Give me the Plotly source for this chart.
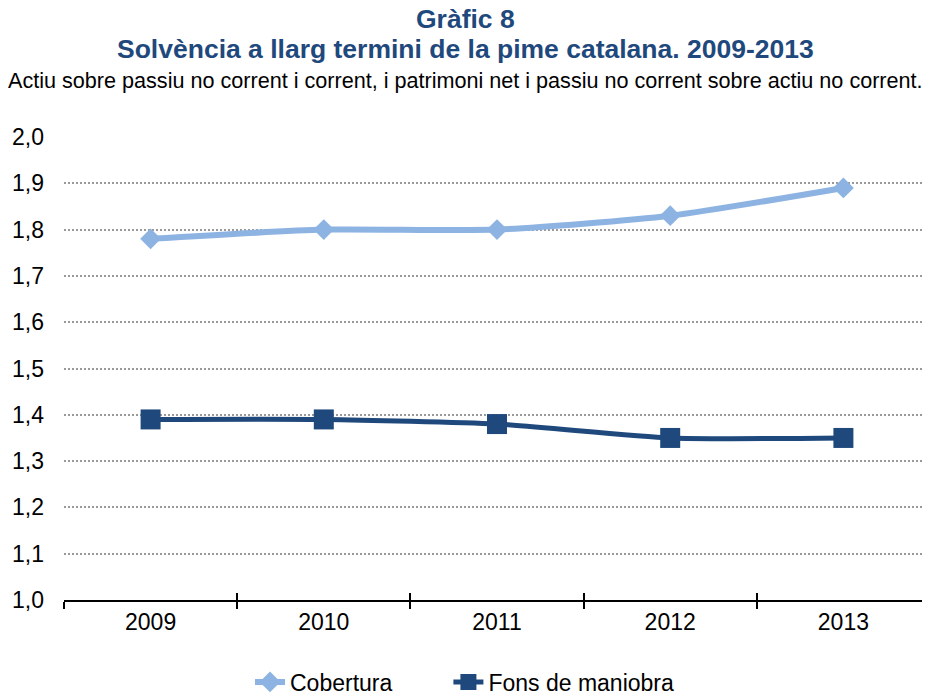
import plotly.graph_objects as go

years = ["2009", "2010", "2011", "2012", "2013"]
cobertura = [1.78, 1.80, 1.80, 1.83, 1.89]
fons_maniobra = [1.39, 1.39, 1.38, 1.35, 1.35]
y_ticks = [1.0, 1.1, 1.2, 1.3, 1.4, 1.5, 1.6, 1.7, 1.8, 1.9, 2.0]

# the page body has an 8px margin, so the figure is laid out 8px smaller
OFF = 8
W, H = 930 - OFF, 695 - OFF
L, R, T, B = 64 - OFF, 0, 137 - OFF, 95
plot_w = W - L - R
plot_h = H - T - B

fig = go.Figure()
fig.add_trace(go.Scatter(
    x=years, y=cobertura, name="Cobertura" + "\u00a0" * 8, mode="lines+markers",
    line=dict(color="#8DB3E2", width=6, shape="spline", smoothing=0.6),
    marker=dict(symbol="diamond", size=16, color="#8DB3E2"),
))
fig.add_trace(go.Scatter(
    x=years, y=fons_maniobra, name="Fons de maniobra", mode="lines+markers",
    line=dict(color="#1F497D", width=5, shape="spline", smoothing=0.6),
    marker=dict(symbol="square", size=20, color="#1F497D"),
))

# invisible helper so the second axis can draw the upward half of the ticks
fig.add_trace(go.Scatter(x=[-0.5, 4.5], y=[1.0, 1.0], xaxis="x2", mode="lines",
                         line=dict(width=0), showlegend=False, hoverinfo="skip"))

def ypx(p):
    # pixel row on the page -> paper coordinate
    return 1 + (T - (p - OFF)) / plot_h

def xpx(p):
    return (p - 64) / plot_w

cx = xpx(465)

fig.update_layout(
    width=W, height=H,
    font=dict(family="Liberation Sans, Arial, sans-serif", size=23, color="#000000"),
    separators=", ",
    paper_bgcolor="white", plot_bgcolor="white",
    margin=dict(l=L, r=R, t=T, b=B, autoexpand=False),
    showlegend=True,
    legend=dict(orientation="h", x=xpx(250), xanchor="left", y=ypx(682), yanchor="middle",
                font=dict(size=23), itemwidth=30, tracegroupgap=0),
    xaxis=dict(type="category", tickson="boundaries", ticks="outside", ticklen=7,
               tickcolor="#000000", tickwidth=1.5, showline=True, linecolor="#000000",
               linewidth=2, showgrid=False, zeroline=False, tickfont=dict(size=23),
               range=[-0.5, 4.5], automargin=False),
    xaxis2=dict(overlaying="x", range=[-0.5, 4.5], tickvals=[-0.5, 0.5, 1.5, 2.5, 3.5, 4.5],
                ticks="inside", ticklen=7, tickcolor="#000000", tickwidth=1.5,
                showticklabels=False, showgrid=False, zeroline=False, side="bottom",
                anchor="y", automargin=False),
    yaxis=dict(range=[1.0, 2.0], tickvals=y_ticks, tickformat=".1f",
               showgrid=True, gridcolor="#999999", griddash="2px,2px", gridwidth=1.5,
               zeroline=False, showline=False, ticks="", tickfont=dict(size=23),
               ticklabelstandoff=19, automargin=False),
    annotations=[
        dict(text="<b>Gràfic 8</b>", x=cx, y=ypx(19), xref="paper", yref="paper",
             yanchor="middle", showarrow=False, borderpad=0,
             font=dict(size=26.5, color="#1F497D")),
        dict(text="<b>Solvència a llarg termini de la pime catalana. 2009-2013</b>",
             x=cx, y=ypx(49), xref="paper", yref="paper", yanchor="middle",
             showarrow=False, borderpad=0, font=dict(size=26.5, color="#1F497D")),
        dict(text="Actiu sobre passiu no corrent i corrent, i patrimoni net i passiu no corrent sobre actiu no corrent.",
             x=cx, y=ypx(80), xref="paper", yref="paper", yanchor="middle",
             showarrow=False, borderpad=0, font=dict(size=21.6, color="#000000")),
    ],
)

fig.write_html("out.html")
